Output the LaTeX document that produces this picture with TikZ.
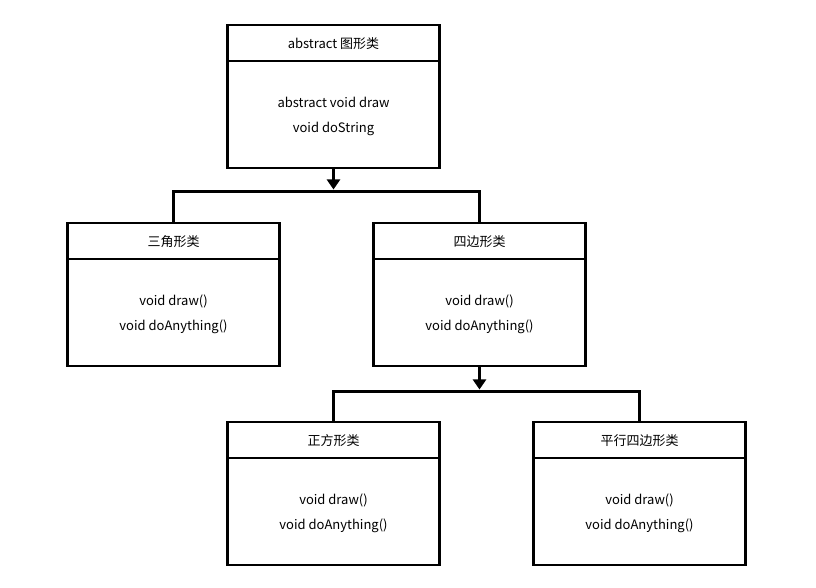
\documentclass[tikz,border=0pt]{standalone}
\usepackage{fontspec}
\setmainfont{Noto Sans CJK SC}
\usetikzlibrary{positioning,arrows.meta}
\tikzset{
  cls head/.style={draw, line width=2.5pt, outer sep=0pt, inner sep=0pt, minimum width=212pt, minimum height=36pt, text depth=0pt, font=\fontsize{13pt}{15pt}\selectfont},
  cls body/.style={draw, line width=2.5pt, outer sep=0pt, inner sep=0pt, minimum width=212pt, minimum height=107pt, align=center, text depth=0pt, font=\fontsize{13pt}{25pt}\selectfont, below=0pt of #1},
  link/.style={line width=2.5pt},
  inherit/.style={link, -{Triangle[width=13pt,length=10pt]}, shorten >=2pt}
}

\begin{document}
\begin{tikzpicture}[x=1pt,y=1pt]

\useasboundingbox (0,0) rectangle (816,588);

% abstract class
\node[cls head] (shape) at (333.5,545) {abstract 图形类};
\node[cls body=shape] (shapebody) {abstract void draw\\void doString};

% second level
\node[cls head] (tri) at (173.5,347) {三角形类};
\node[cls body=tri] (tribody) {void draw()\\void doAnything()};

\node[cls head] (quad) at (479.5,347) {四边形类};
\node[cls body=quad] (quadbody) {void draw()\\void doAnything()};

% third level
\node[cls head] (square) at (333.5,148) {正方形类};
\node[cls body=square] (squarebody) {void draw()\\void doAnything()};

\node[cls head] (para) at (639.5,148) {平行四边形类};
\node[cls body=para] (parabody) {void draw()\\void doAnything()};

% connectors
\coordinate (bar1) at (333.5,396.5);
\coordinate (bar2) at (479.5,196.5);

\draw[inherit] (shapebody.south) -- (bar1);
\draw[link] (tri.north) |- (bar1) -| (quad.north);

\draw[inherit] (quadbody.south) -- (bar2);
\draw[link] (square.north) |- (bar2) -| (para.north);

\end{tikzpicture}
\end{document}
